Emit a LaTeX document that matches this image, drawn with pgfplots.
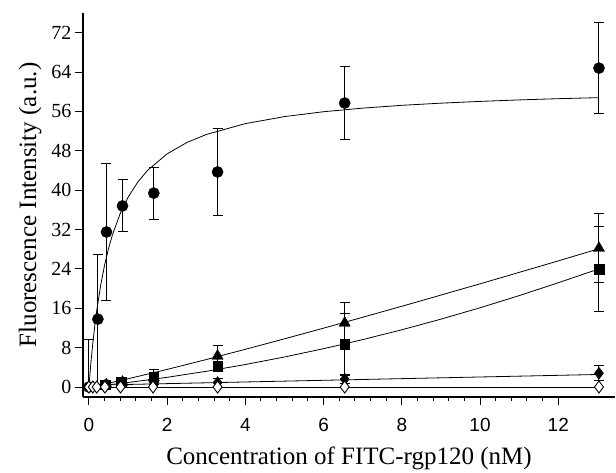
\documentclass[border=0pt]{standalone}
\usepackage{fontspec}
\setmainfont{Liberation Serif}
\newfontfamily\arialf{Liberation Sans}
\usepackage{pgfplots}
\pgfplotsset{compat=1.18}
\pgfplotsset{myerr/.style={error bars/.cd, y dir=both, y explicit,
  error bar style={line width=1pt, black},
  error mark options={black, line width=1pt, mark size=5pt, rotate=90}}}
\begin{document}
\begin{tikzpicture}
\useasboundingbox (-83pt,-75pt) rectangle (533pt,397pt);
\begin{axis}[
  at={(0pt,0pt)}, anchor=south west,
  scale only axis, width=532pt, height=384pt,
  xmin=-0.15, xmax=13.45, ymin=-2.03, ymax=76,
  axis lines*=left,
  axis line style={line width=1.1pt},
  xtick={0,2,...,12}, ytick={0,8,...,72},
  minor x tick num=4,
  tick align=outside,
  major tick length=8pt, minor tick length=4pt,
  tick style={line width=1pt, black},
  /pgf/number format/assume math mode=true,
  xticklabel style={font=\arialf\fontsize{19}{19}\selectfont, yshift=-10pt},
  yticklabel style={font=\fontsize{20}{20}\selectfont},
  xlabel={Concentration of FITC-rgp120 (nM)},
  ylabel={Fluorescence Intensity (a.u.)},
  label style={font=\fontsize{25}{25}\selectfont},
  xlabel style={at={(axis description cs:0.5,-0.1745)}, anchor=base},
  ylabel style={at={(axis description cs:-0.0883,0.5)}, anchor=base},
  clip=false,
]
% fitted curves
\addplot[black, line width=0.8pt] coordinates {
 (0,0) (0.05,4.76) (0.1,8.84) (0.15,12.37) (0.2,15.45) (0.3,20.59) (0.4,24.70)
 (0.5,28.06) (0.6,30.85) (0.8,35.24) (1.0,38.53) (1.25,41.64) (1.5,44.01)
 (2,47.38) (2.5,49.66) (3,51.31) (4,53.52) (5,54.95) (6,55.94) (7,56.67)
 (8,57.24) (9,57.68) (10,58.04) (11,58.34) (12,58.59) (13.04,58.80)};
\addplot[black, line width=0.8pt] coordinates {
 (0,0) (0.5,0.78) (1,1.67) (2,3.57) (3,5.58) (4,7.66) (5,9.79) (6,11.96)
 (7,14.17) (8,16.41) (9,18.68) (10,20.97) (11,23.29) (12,25.63) (13.04,28.1)};
\addplot[black, line width=0.8pt] coordinates {
 (0,0) (1,0.91) (2,1.97) (3,3.19) (4,4.57) (5,6.10) (6,7.79) (7,9.63)
 (8,11.63) (9,13.79) (10,16.10) (11,18.57) (12,21.19) (13.04,24.0)};
\addplot[black, line width=0.8pt] coordinates {(0,0.35) (13.04,2.55)};
\addplot[black, line width=0.8pt] coordinates {(0,0) (13.04,0)};
% data points
\addplot[only marks, black, mark=*, mark size=5.6pt, myerr]
 coordinates {
 (0,0) += (0,9.7) -= (0,0)
 (0.23,13.8) +- (0,13.2)
 (0.45,31.5) +- (0,14.0)
 (0.86,36.8) +- (0,5.3)
 (1.66,39.4) +- (0,5.3)
 (3.29,43.7) +- (0,8.8)
 (6.54,57.7) +- (0,7.4)
 (13.04,64.8) +- (0,9.2)};
\addplot[only marks, black, mark=triangle*, mark size=6.5pt, myerr]
 coordinates {
 (0.45,0.5) +- (0,0)
 (0.86,1.0) +- (0,0)
 (1.66,1.9) +- (0,0)
 (3.29,6.3) +- (0,2.2)
 (6.54,13.0) +- (0,4.1)
 (13.04,28.2) +- (0,7.0)};
\addplot[only marks, black, mark=square*, mark size=4.8pt, myerr]
 coordinates {
 (0.41,0.5) +- (0,0)
 (0.83,1.0) +- (0,0)
 (1.66,2.0) +- (0,1.5)
 (3.29,4.1) +- (0,1.0)
 (6.54,8.7) +- (0,6.3)
 (13.04,24.0) +- (0,8.6)};
\addplot[only marks, black, mark=diamond*, mark size=6pt, myerr]
 coordinates {
 (0.41,0.3) +- (0,0)
 (0.83,0.4) +- (0,0)
 (1.66,0.5) +- (0,0)
 (3.29,0.9) +- (0,0.9)
 (6.54,1.6) +- (0,0.9)
 (13.04,2.8) +- (0,1.5)};
\addplot[only marks, mark=diamond*, mark size=6pt,
  mark options={draw=black, fill=white, line width=0.9pt}]
 coordinates {
 (0,0) (0.1,0) (0.2,0) (0.41,0) (0.81,0) (1.64,0) (3.29,0) (6.54,0) (13.04,0)};
\end{axis}
\end{tikzpicture}
\end{document}
